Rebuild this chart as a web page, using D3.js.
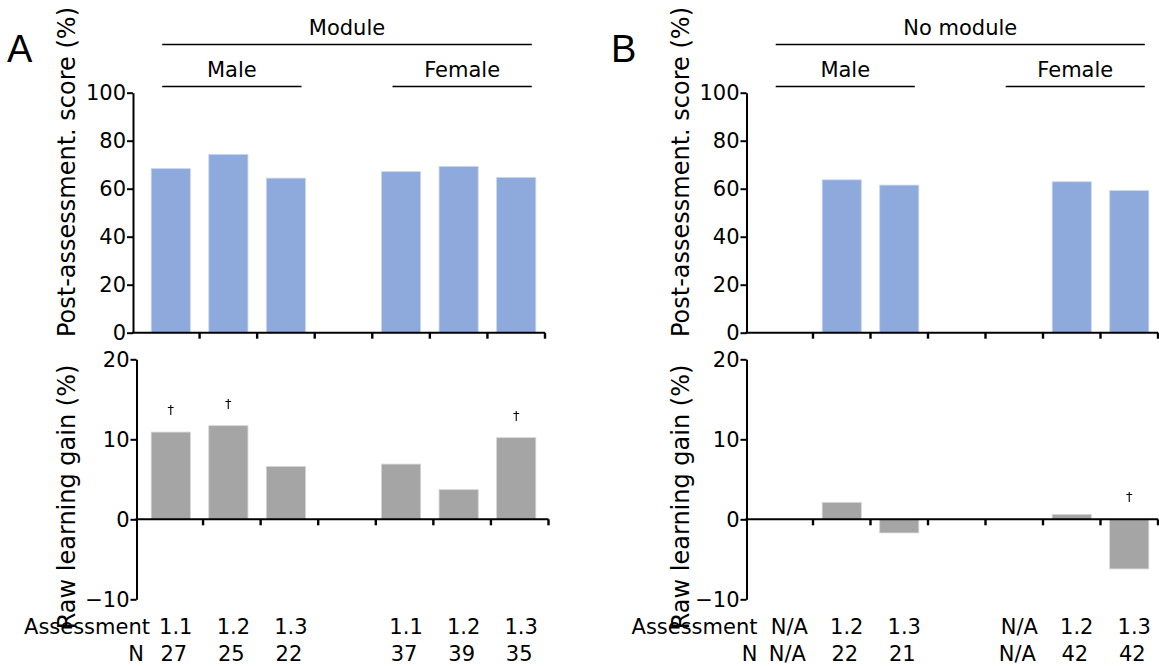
<!DOCTYPE html>
<html>
<head>
<meta charset="utf-8">
<script src="https://cdn.jsdelivr.net/npm/d3@7"></script>
<style>
  body { margin: 0; background: #fff; }
  text { font-family: "DejaVu Sans", Verdana, sans-serif; fill: #000; }
</style>
</head>
<body>
<svg id="chart" width="1159" height="666">
  <defs>
    <filter id="mono"><feColorMatrix type="saturate" values="0"/></filter>
  </defs>
</svg>
<script>
// Category slots: three male assessments, a spacer, three female assessments
const categories = ["m1.1", "m1.2", "m1.3", "gap", "f1.1", "f1.2", "f1.3"];

// Panel A: with module
const assessA = ["1.1", "1.2", "1.3", "", "1.1", "1.2", "1.3"];
const nA      = ["27", "25", "22", "", "37", "39", "35"];
const scoreA  = [68.4, 74.3, 64.4, null, 67.1, 69.3, 64.7];
const gainA   = [10.9, 11.7, 6.6, null, 6.9, 3.7, 10.2];
const markA   = [true, true, false, false, false, false, true];

// Panel B: without module
const assessB = ["N/A", "1.2", "1.3", "", "N/A", "1.2", "1.3"];
const nB      = ["N/A", "22", "21", "", "N/A", "42", "42"];
const scoreB  = [null, 63.7, 61.5, null, null, 62.9, 59.2];
const gainB   = [null, 2.1, -1.7, null, null, 0.6, -6.2];
const markB   = [false, false, false, false, false, false, true];

const scoreTicks = [0, 20, 40, 60, 80, 100];
const gainTicks  = [-10, 0, 10, 20];

const svg = d3.select("#chart");

const yTop = d3.scaleLinear().domain([0, 100]).range([332.7, 92.7]);
const yBot = d3.scaleLinear().domain([-10, 20]).range([599.3, 359.3]);

const LABEL = 21;

function styleAxis(sel) {
  sel.select(".domain").attr("stroke", "#000").attr("stroke-width", 2);
  sel.selectAll(".tick line").attr("stroke", "#000").attr("stroke-width", 2);
  sel.selectAll(".tick text").attr("font-size", LABEL)
     .attr("font-family", "'DejaVu Sans', Verdana, sans-serif").attr("fill", "#000");
}

function drawPanel(p) {
  const g = svg.append("g");
  const x = d3.scaleBand().domain(categories)
    .range([p.bandStart, p.bandEnd]).paddingInner(0.32).paddingOuter(0.16);
  const mid = c => x(c) + x.bandwidth() / 2;
  const edge = c => x(c) + x.bandwidth() + x.step() * 0.16;
  const shift = p.axisBot - p.axisTop;

  // panel letter
  g.append("text").attr("x", p.letterX).attr("y", 62)
    .style("font-family", "'Liberation Sans', Arial, sans-serif")
    .attr("font-size", 38).text(p.letter);

  // group brackets
  const bracket = (c0, c1, y, label, ty) => {
    const x0 = x(c0) + 11, x1 = x(c1) + x.bandwidth() - 4;
    g.append("line").attr("x1", x0).attr("x2", x1).attr("y1", y).attr("y2", y)
      .attr("stroke", "#000").attr("stroke-width", 1.6);
    g.append("text").attr("x", (x0 + x1) / 2).attr("y", ty)
      .attr("text-anchor", "middle").attr("font-size", LABEL).text(label);
  };
  bracket(categories[0], categories[6], 44.5, p.group, 35);
  bracket(categories[0], categories[2], 86.5, "Male", 77);
  bracket(categories[4], categories[6], 86.5, "Female", 77);

  // upper chart: post-assessment scores
  g.selectAll(".score").data(categories.map((c, i) => ({ c, v: p.score[i] })).filter(d => d.v != null))
    .join("rect").attr("class", "score")
    .attr("x", d => x(d.c)).attr("width", x.bandwidth())
    .attr("y", d => yTop(d.v)).attr("height", d => yTop(0) - yTop(d.v))
    .attr("fill", "#8eaadc").attr("stroke", "#c9d6ef").attr("stroke-width", 0.8);

  const axT = g.append("g").attr("transform", `translate(${p.axisTop},0)`)
    .call(d3.axisLeft(yTop).tickValues(scoreTicks).tickSize(6).tickSizeOuter(0).tickPadding(1));
  styleAxis(axT);
  g.append("line").attr("x1", p.axisTop - 1).attr("x2", p.bandEnd)
    .attr("y1", yTop(0)).attr("y2", yTop(0)).attr("stroke", "#000").attr("stroke-width", 2);
  g.selectAll(".tickT").data(categories).join("line").attr("class", "tickT")
    .attr("x1", d => edge(d)).attr("x2", d => edge(d))
    .attr("y1", yTop(0)).attr("y2", yTop(0) + 6).attr("stroke", "#000").attr("stroke-width", 2.4);

  // lower chart: raw learning gain
  g.selectAll(".gain").data(categories.map((c, i) => ({ c, v: p.gain[i] })).filter(d => d.v != null))
    .join("rect").attr("class", "gain")
    .attr("x", d => x(d.c)).attr("width", x.bandwidth())
    .attr("y", d => yBot(Math.max(0, d.v))).attr("height", d => Math.abs(yBot(d.v) - yBot(0)))
    .attr("fill", "#a5a5a5").attr("stroke", "#d4d4d4").attr("stroke-width", 0.8);

  const axB = g.append("g").attr("transform", `translate(${p.axisBot},0)`)
    .call(d3.axisLeft(yBot).tickValues(gainTicks).tickSize(6).tickSizeOuter(0).tickPadding(1));
  styleAxis(axB);
  g.append("line").attr("x1", p.axisBot - 1).attr("x2", p.bandEnd + shift)
    .attr("y1", yBot(0)).attr("y2", yBot(0)).attr("stroke", "#000").attr("stroke-width", 2);
  g.selectAll(".tickB").data(categories).join("line").attr("class", "tickB")
    .attr("x1", d => edge(d) + shift).attr("x2", d => edge(d) + shift)
    .attr("y1", yBot(0)).attr("y2", yBot(0) + 6).attr("stroke", "#000").attr("stroke-width", 2.4);

  // significance daggers
  g.append("g").attr("filter", "url(#mono)")
    .selectAll("text").data(categories.map((c, i) => ({ c, v: p.gain[i], m: p.mark[i] })).filter(d => d.m))
    .join("text")
    .attr("x", d => mid(d.c)).attr("y", d => yBot(Math.max(0, d.v)) - 18)
    .attr("text-anchor", "middle").attr("font-size", 13).text("\u2020");

  // axis titles
  g.append("text").attr("transform", `translate(${p.axisTop - 58},172) rotate(-90)`)
    .attr("text-anchor", "middle").attr("font-size", 24).text("Post-assessment. score (%)");
  g.append("text").attr("transform", `translate(${p.axisTop - 58},497) rotate(-90)`)
    .attr("text-anchor", "middle").attr("font-size", 24).text("Raw learning gain (%)");

  // table rows beneath
  const rowX = p.axisTop + p.rowGap;
  g.append("text").attr("x", rowX).attr("y", 634).attr("text-anchor", "end")
    .attr("font-size", LABEL).text("Assessment");
  g.append("text").attr("x", rowX - p.nGap).attr("y", 660.5).attr("text-anchor", "end")
    .attr("font-size", LABEL).text("N");
  g.selectAll(".assess").data(categories.map((c, i) => ({ c, t: p.assess[i] })))
    .join("text").attr("class", "assess")
    .attr("x", d => mid(d.c) + 5).attr("y", 634).attr("text-anchor", "middle")
    .attr("font-size", LABEL).text(d => d.t);
  g.selectAll(".nrow").data(categories.map((c, i) => ({ c, t: p.n[i] })))
    .join("text").attr("class", "nrow")
    .attr("x", d => mid(d.c) + 3).attr("y", 660.5).attr("text-anchor", "middle")
    .attr("font-size", LABEL).text(d => d.t);
}

drawPanel({
  letter: "A", letterX: 7, group: "Module",
  axisTop: 133, axisBot: 136.5, bandStart: 142, bandEnd: 545, rowGap: 17, nGap: 6,
  score: scoreA, gain: gainA, mark: markA, assess: assessA, n: nA
});
drawPanel({
  letter: "B", letterX: 611, group: "No module",
  axisTop: 746.5, axisBot: 746.5, bandStart: 755.5, bandEnd: 1158, rowGap: 11, nGap: 0,
  score: scoreB, gain: gainB, mark: markB, assess: assessB, n: nB
});
</script>
</body>
</html>
